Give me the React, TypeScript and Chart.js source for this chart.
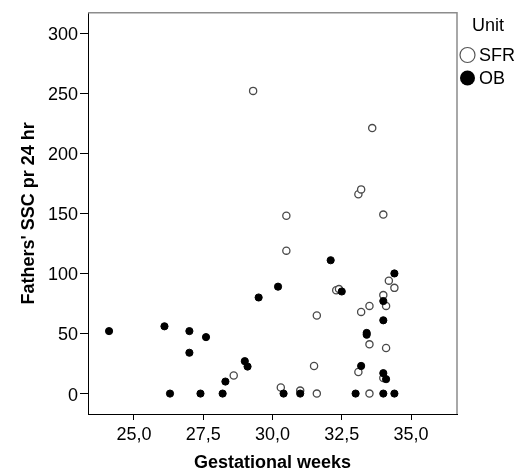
import React, { useEffect, useRef } from 'react';
import { Chart, registerables } from 'chart.js';

Chart.register(...registerables);

// SFR unit (open circles)
const sfrWeeks = [29.3, 33.6, 33.1, 33.2, 34.0, 30.5, 30.5, 34.2, 34.4, 32.3, 32.4, 34.0, 33.5, 34.1, 31.6, 33.2, 33.5, 34.1, 31.5, 33.1, 28.6, 34.0, 30.3, 31.0, 31.6, 33.5];
const sfrSSC = [252, 221, 166, 170, 149, 148, 119, 94, 88, 86, 87, 82, 73, 73, 65, 68, 41, 38, 23, 18, 15, 13, 5, 2.5, 0, 0];

// OB unit (filled circles)
const obWeeks = [24.1, 26.1, 27.0, 27.6, 27.0, 29.5, 30.2, 32.1, 32.5, 34.4, 34.0, 34.0, 33.4, 33.4, 29.0, 29.1, 28.3, 33.2, 34.0, 34.1, 26.3, 27.4, 28.2, 30.4, 31.0, 33.0, 34.0, 34.4];
const obSSC = [52, 56, 52, 47, 34, 80, 89, 111, 85, 100, 77, 61, 50.5, 49, 27, 22.5, 10, 23, 17, 12, 0, 0, 0, 0, 0, 0, 0, 0];

const xTicks = [25, 27.5, 30, 32.5, 35];
const yTicks = [0, 50, 100, 150, 200, 250, 300];
const seriesNames = ['SFR', 'OB'];
const legendTitle = 'Unit';
const xTitle = 'Gestational weeks';
const yTitle = "Fathers' SSC pr 24 hr";

const FONT = '"Liberation Sans", Arial, sans-serif';

const framePlugin = {
  id: 'frameAndLegend',
  afterDraw(chart: any) {
    const { ctx, chartArea } = chart;
    const { left, right, top, bottom } = chartArea;
    ctx.save();
    // top and right frame lines
    ctx.strokeStyle = '#8c8c8c';
    ctx.lineWidth = 1.5;
    ctx.beginPath();
    ctx.moveTo(left, top);
    ctx.lineTo(right, top);
    ctx.lineTo(right, bottom);
    ctx.stroke();

    // legend
    ctx.fillStyle = '#000';
    ctx.font = `18px ${FONT}`;
    ctx.textAlign = 'center';
    ctx.textBaseline = 'middle';
    ctx.fillText(legendTitle, 488, 26);

    ctx.textAlign = 'left';
    const items = [
      { name: seriesNames[0], y: 55, filled: false },
      { name: seriesNames[1], y: 78, filled: true },
    ];
    items.forEach((it) => {
      ctx.beginPath();
      ctx.arc(467.5, it.y, 7.5, 0, Math.PI * 2);
      if (it.filled) {
        ctx.fillStyle = '#000';
        ctx.fill();
      } else {
        ctx.fillStyle = '#fff';
        ctx.fill();
        ctx.strokeStyle = '#555';
        ctx.lineWidth = 1.2;
        ctx.stroke();
      }
      ctx.fillStyle = '#000';
      ctx.fillText(it.name, 479, it.y + 1);
    });
    ctx.restore();
  },
};

const fmt = (v: number) => v.toFixed(1).replace('.', ',');

export default function App() {
  const ref = useRef<HTMLCanvasElement | null>(null);

  useEffect(() => {
    if (!ref.current) return;
    const chart = new Chart(ref.current, {
      type: 'scatter',
      data: {
        datasets: [
          {
            label: seriesNames[0],
            data: sfrWeeks.map((x, i) => ({ x, y: sfrSSC[i] })),
            backgroundColor: '#fff',
            borderColor: '#4a4a4a',
            borderWidth: 1.3,
            pointRadius: 3.6,
            order: 2,
          },
          {
            label: seriesNames[1],
            data: obWeeks.map((x, i) => ({ x, y: obSSC[i] })),
            backgroundColor: '#000',
            borderColor: '#000',
            borderWidth: 1,
            pointRadius: 3.6,
            order: 1,
          },
        ],
      },
      options: {
        responsive: false,
        animation: false,
        layout: { padding: { top: 9, right: 61, left: 0, bottom: 0 } },
        plugins: {
          legend: { display: false },
          tooltip: { enabled: false },
        },
        scales: {
          x: {
            type: 'linear',
            min: 23.34,
            max: 36.66,
            afterFit: (s: any) => { s.height = 59; },
            afterBuildTicks: (s: any) => { s.ticks = xTicks.map((v) => ({ value: v })); },
            grid: { drawOnChartArea: false, drawTicks: true, tickLength: 6, color: '#000' },
            border: { display: true, color: '#000', width: 1 },
            ticks: {
              color: '#000',
              font: { family: FONT, size: 18 },
              padding: 4,
              maxRotation: 0,
              callback: (v: any) => fmt(Number(v)),
            },
            title: {
              display: true,
              text: xTitle,
              color: '#000',
              font: { family: FONT, size: 18, weight: 'bold', lineHeight: 1.1 },
              padding: { top: 0, bottom: 0 },
            },
          },
          y: {
            type: 'linear',
            min: -17,
            max: 317,
            afterFit: (s: any) => { s.width = 88; },
            afterBuildTicks: (s: any) => { s.ticks = yTicks.map((v) => ({ value: v })); },
            grid: { drawOnChartArea: false, drawTicks: true, tickLength: 8, color: '#000' },
            border: { display: true, color: '#000', width: 1 },
            ticks: {
              color: '#000',
              font: { family: FONT, size: 18 },
              padding: 2,
              labelOffset: 2,
              callback: (v: any) => String(v),
            },
            title: {
              display: true,
              text: yTitle,
              color: '#000',
              font: { family: FONT, size: 18, weight: 'bold', lineHeight: 1.2 },
              padding: { top: 18, bottom: 0 },
            },
          },
        },
      },
      plugins: [framePlugin],
    });
    return () => chart.destroy();
  }, []);

  return (
    <div style={{ position: 'absolute', left: 0, top: 0, width: 518, height: 473, background: '#fff' }}>
      <canvas ref={ref} width={518} height={473} style={{ display: 'block' }} />
    </div>
  );
}
